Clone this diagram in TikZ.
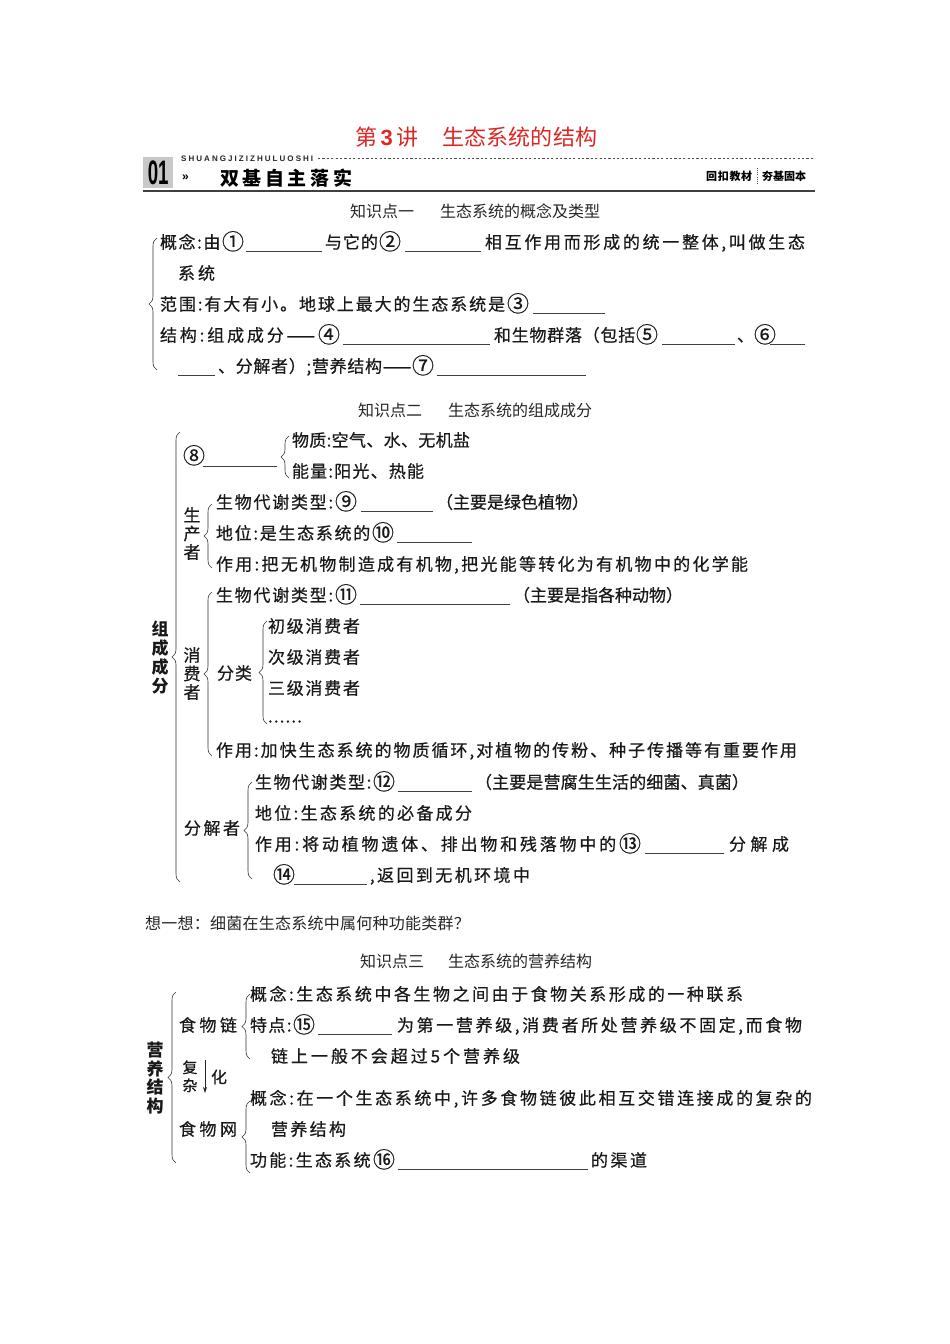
\documentclass[tikz,border=0pt]{standalone}
\usepackage{fontspec}
\setmainfont{Noto Sans CJK SC}
\newfontfamily\bodyf{Noto Sans CJK SC}[FakeBold=0.5]
\newfontfamily\lat{Liberation Sans}
\usetikzlibrary{decorations.pathreplacing,arrows.meta}
\definecolor{titlered}{RGB}{222,38,38}
\definecolor{boxgray}{RGB}{200,200,200}
\def\spr#1#2\endspr{#1\ifx\relax#2\else\hfil\spr#2\endspr\fi}
\newcommand\spreadtext[1]{\spr#1\relax\endspr}
\newcommand\cn[1]{\raisebox{-1.2pt}{\fontsize{22}{22}\selectfont #1}}
\tikzset{
  txt/.style={inner sep=0pt, outer sep=0pt, font=\bodyf\fontsize{17}{17}\selectfont, text=black!90},
  head/.style={inner sep=0pt, outer sep=0pt, font=\fontsize{16}{16}\selectfont, text=black!85},
  ul/.style={line width=0.7pt, black!75},
  brc/.style={decorate, decoration={brace, amplitude=8pt}, line width=0.6pt, black!80},
}
% name, x1, x2, y(center), text
\newcommand\seg[5]{\node[txt,anchor=base west] (#1) at (#2,#4+6.5) {\makebox[\dimexpr #3pt-#2pt\relax][s]{\spreadtext{#5}}};}
% name, x1, x2, y(center of the row)
\newcommand\blank[4]{\draw[ul] (#2,#4+9.5) coordinate (#1) -- (#3,#4+9.5);}
% name, x(center), y(center), char
\newcommand\vch[4]{\node[txt,anchor=base] (#1) at (#2,#3+6.5) {#4};}
% name, x(spine), top, bottom
\newcommand\curly[4]{\draw[brc] (#2+4,#4) coordinate (#1) -- (#2+4,#3);}
\begin{document}
\begin{tikzpicture}[x=1pt,y=-1pt]
\useasboundingbox[fill=white] (0,0) rectangle (950,1344);

% ---------- title ----------
\node[anchor=base west, inner sep=0, font=\fontsize{22}{22}\selectfont, text=titlered] (t1) at (355,145) {\makebox[63pt][s]{第\hfil{\lat\bfseries 3}\hfil 讲}};
\node[anchor=base west, inner sep=0, font=\fontsize{22}{22}\selectfont, text=titlered] (t2) at (442,145) {\makebox[155pt][s]{\spreadtext{生态系统的结构}}};

% ---------- header bar ----------
\node[fill=boxgray, inner sep=0, minimum width=30pt, minimum height=31pt, anchor=north west] (box) at (143,157) {};
\node[inner sep=0, font=\lat\bfseries\fontsize{34}{34}\selectfont, text=black] (num) at (box.center) {\scalebox{0.55}[1]{01}};
\node[anchor=base west, inner sep=0, font=\lat\bfseries\fontsize{8}{8}\selectfont, text=black!85] (pinyin) at (181,161) {\makebox[132pt][s]{\spreadtext{SHUANGJIZIZHULUOSHI}}};
\coordinate (dashA) at (318,158.5);
\coordinate (dashB) at (815,158.5);
\draw[black!70, line width=0.8pt, dash pattern=on 2.2pt off 2.2pt] (dashA) -- (dashB);
\node[anchor=base west, inner sep=0, font=\lat\bfseries\fontsize{12}{12}\selectfont] (raq) at (182,180) {»};
\node[anchor=base west, inner sep=0, font=\bfseries\fontsize{19}{19}\selectfont] (hd) at (220,185) {\makebox[132pt][s]{\spreadtext{双基自主落实}}};
\node[anchor=base west, inner sep=0, font=\bfseries\fontsize{11}{11}\selectfont] (r1) at (706,180) {\makebox[46pt][s]{\spreadtext{回扣教材}}};
\node[anchor=base west, inner sep=0, font=\bfseries\fontsize{11}{11}\selectfont] (r2) at (762,180) {\makebox[44pt][s]{\spreadtext{夯基固本}}};
\draw[black!70, line width=0.7pt, dash pattern=on 1pt off 1.2pt] (r1.east) ++(5,-8) coordinate (sepA) -- ++(0,17) coordinate (sepB);
\coordinate (ruleA) at (143,190.5);
\coordinate (ruleB) at (815,190.5);
\draw[black!75, line width=2pt] (ruleA) -- (ruleB);

% ---------- section 1 ----------
\node[head, anchor=base west] (h1a) at (350,217) {知识点一};
\node[head, anchor=base east] (h1b) at (600,217) {生态系统的概念及类型};
\curly{b1}{153}{238}{370}
\seg{a1}{160}{244}{242}{概念:由{\cn{①}}}
\blank{u1}{246}{322}{242}
\seg{a2}{325}{401}{242}{与它的{\cn{②}}}
\blank{u2}{405}{481}{242}
\seg{a3}{485}{805}{242}{相互作用而形成的统一整体,叫做生态}
\seg{a4}{178}{215}{273}{系统}
\seg{a5}{160}{529}{304}{范围:有大有小。地球上最大的生态系统是{\cn{③}}}
\blank{u3}{533}{605}{304}
\seg{a6}{160}{340}{335}{结构:组成成分{——}{\cn{④}}}
\blank{u4}{343}{490}{335}
\seg{a7}{494}{658}{335}{和生物群落（包括{\cn{⑤}}}
\blank{u5}{662}{735}{335}
\seg{a8}{737}{766}{335}{、{\cn{⑥}}}
\blank{u6}{770}{805}{335}
\blank{u7}{178}{215}{366}
\seg{a9}{218}{434}{366}{、分解者）;营养结构{——}{\cn{⑦}}}
\blank{u8}{437}{586}{366}

% ---------- section 2 ----------
\node[head, anchor=base west] (h2a) at (358,416) {知识点二};
\node[head, anchor=base east] (h2b) at (592,416) {生态系统的组成成分};
\curly{b2}{176}{432}{882}
\node[txt, anchor=base, font=\bfseries\fontsize{17}{17}\selectfont] (z1) at (160,635.5) {组};
\node[txt, anchor=base, font=\bfseries\fontsize{17}{17}\selectfont] (z2) at (160,654.5) {成};
\node[txt, anchor=base, font=\bfseries\fontsize{17}{17}\selectfont] (z3) at (160,673.5) {成};
\node[txt, anchor=base, font=\bfseries\fontsize{17}{17}\selectfont] (z4) at (160,692.5) {分};

\seg{c8}{183}{200}{456}{{\cn{⑧}}}
\draw[ul] (203,466) coordinate (u8a) -- (277,466);
\curly{b8}{285}{436}{478}
\seg{c8a}{292}{470}{440}{物质:空气、水、无机盐}
\seg{c8b}{292}{424}{471}{能量:阳光、热能}

\vch{p1}{192}{515}{生}
\vch{p2}{192}{533.5}{产}
\vch{p3}{192}{552}{者}
\curly{bp}{208}{504}{568}
\seg{p4}{216}{357}{502}{生物代谢类型:{\cn{⑨}}}
\blank{u9}{361}{433}{502}
\seg{p5}{436}{588}{502}{（主要是绿色植物）}
\seg{p6}{216}{394}{533}{地位:是生态系统的{\cn{⑩}}}
\blank{u10}{397}{472}{533}
\seg{p7}{216}{748}{564}{作用:把无机物制造成有机物,把光能等转化为有机物中的化学能}

\vch{q1}{192}{655}{消}
\vch{q2}{192}{673.5}{费}
\vch{q3}{192}{692}{者}
\curly{bq}{208}{592}{756}
\seg{q4}{216}{357}{595}{生物代谢类型:{\cn{⑪}}}
\blank{u11}{360}{510}{595}
\seg{q5}{513}{683}{595}{（主要是指各种动物）}
\seg{q6}{217}{252}{673}{分类}
\curly{bf}{263}{621}{724}
\seg{q7}{268}{360}{626}{初级消费者}
\seg{q8}{268}{360}{657}{次级消费者}
\seg{q9}{268}{360}{688}{三级消费者}
\seg{q10}{268}{302}{716}{......}
\seg{q11}{216}{797}{750}{作用:加快生态系统的物质循环,对植物的传粉、种子传播等有重要作用}

\seg{d1}{184}{240}{828}{分解者}
\curly{bd}{248}{782}{879}
\seg{d2}{255}{395}{782}{生物代谢类型:{\cn{⑫}}}
\blank{u12}{398}{472}{782}
\seg{d3}{475}{749}{782}{（主要是营腐生生活的细菌、真菌）}
\seg{d4}{255}{472}{813}{地位:生态系统的必备成分}
\seg{d5}{255}{641}{844}{作用:将动植物遗体、排出物和残落物中的{\cn{⑬}}}
\blank{u13}{645}{724}{844}
\seg{d6}{729}{789}{844}{分解成}
\seg{d7}{273}{291}{875}{{\cn{⑭}}}
\blank{u14}{294}{367}{875}
\seg{d8}{370}{530}{875}{,返回到无机环境中}

\node[head, anchor=base west] (think) at (145,929) {\makebox[325pt][s]{\spreadtext{想一想：细菌在生态系统中属何种功能类群？}}};

% ---------- section 3 ----------
\node[head, anchor=base west] (h3a) at (360,967) {知识点三};
\node[head, anchor=base east] (h3b) at (592,967) {生态系统的营养结构};
\curly{b3}{172}{992}{1163}
\node[txt, anchor=base, font=\bfseries\fontsize{17}{17}\selectfont] (y1) at (155,1056.5) {营};
\node[txt, anchor=base, font=\bfseries\fontsize{17}{17}\selectfont] (y2) at (155,1075) {养};
\node[txt, anchor=base, font=\bfseries\fontsize{17}{17}\selectfont] (y3) at (155,1093.5) {结};
\node[txt, anchor=base, font=\bfseries\fontsize{17}{17}\selectfont] (y4) at (155,1112) {构};

\seg{f1}{179}{237}{1025}{食物链}
\curly{bl1}{246}{994}{1059}
\seg{f2}{250}{743}{994}{概念:生态系统中各生物之间由于食物关系形成的一种联系}
\seg{f3}{250}{315}{1025}{特点:{\cn{⑮}}}
\blank{u15}{318}{392}{1025}
\seg{f4}{397}{802}{1025}{为第一营养级,消费者所处营养级不固定,而食物}
\seg{f5}{271}{520}{1056}{链上一般不会超过5个营养级}

\node[txt, anchor=base, font=\bodyf\fontsize{15}{15}\selectfont] (fz1) at (190,1073) {复};
\node[txt, anchor=base, font=\bodyf\fontsize{15}{15}\selectfont] (fz2) at (190,1091) {杂};
\node[txt, anchor=base, font=\bodyf\fontsize{16}{16}\selectfont] (hua) at (219,1083) {化};
\coordinate (arA) at (205,1060);
\coordinate (arB) at (205,1093);
\draw[line width=0.8pt, black!85, -{Stealth[length=6pt,width=4pt]}] (arA) -- (arB);

\seg{g1}{179}{237}{1129}{食物网}
\curly{bl2}{246}{1101}{1173}
\seg{g2}{250}{812}{1098}{概念:在一个生态系统中,许多食物链彼此相互交错连接成的复杂的}
\seg{g3}{271}{346}{1129}{营养结构}
\seg{g4}{250}{395}{1160}{功能:生态系统{\cn{⑯}}}
\blank{u16}{398}{588}{1160}
\seg{g5}{591}{647}{1160}{的渠道}
\end{tikzpicture}
\end{document}
